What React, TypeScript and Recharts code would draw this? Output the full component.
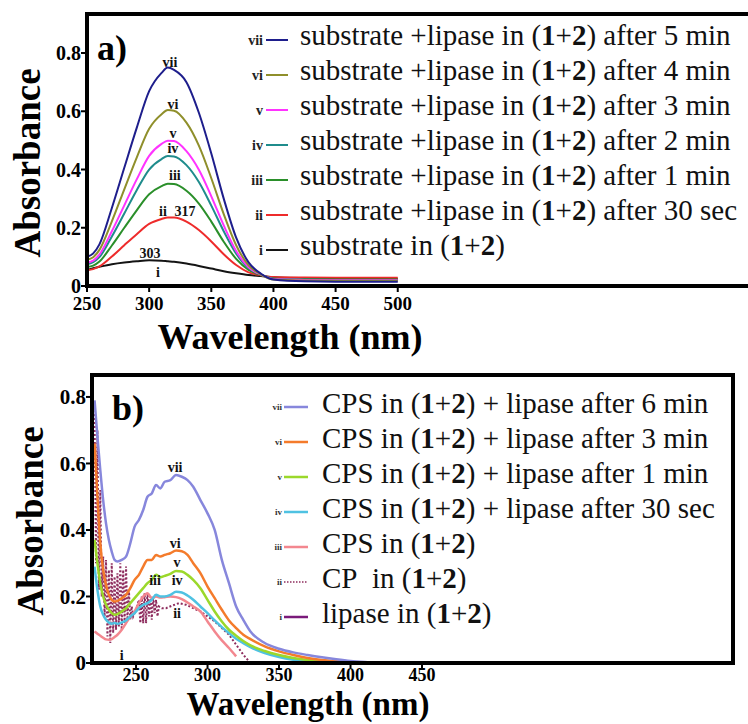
import React from "react";
import { LineChart, Line, XAxis, YAxis, ReferenceArea, ReferenceDot } from "recharts";

const SERIF = "Liberation Serif, DejaVu Serif, Noto Serif, serif";

// ---- (a) substrate + lipase, spectra recorded over time ----
const waveA = [250, 255, 260, 270, 280, 290, 300, 310, 315, 320, 330, 340, 350, 360, 370, 380, 390, 400, 425, 450, 475, 500];
const subVii = [0.1, 0.112, 0.143, 0.268, 0.406, 0.543, 0.669, 0.732, 0.75, 0.742, 0.7, 0.595, 0.455, 0.3, 0.166, 0.081, 0.042, 0.022, 0.016, 0.015, 0.015, 0.015];
const subVi = [0.09, 0.099, 0.124, 0.222, 0.332, 0.441, 0.54, 0.59, 0.604, 0.602, 0.561, 0.482, 0.37, 0.247, 0.14, 0.071, 0.04, 0.022, 0.019, 0.018, 0.018, 0.018];
const subV = [0.08, 0.087, 0.108, 0.188, 0.277, 0.366, 0.447, 0.488, 0.499, 0.498, 0.463, 0.399, 0.308, 0.208, 0.12, 0.064, 0.039, 0.024, 0.021, 0.02, 0.02, 0.02];
const subIv = [0.075, 0.082, 0.099, 0.17, 0.249, 0.329, 0.4, 0.436, 0.446, 0.445, 0.415, 0.357, 0.276, 0.188, 0.111, 0.061, 0.039, 0.025, 0.022, 0.021, 0.021, 0.021];
const subIii = [0.065, 0.07, 0.084, 0.139, 0.2, 0.26, 0.315, 0.343, 0.351, 0.35, 0.327, 0.283, 0.221, 0.152, 0.093, 0.055, 0.038, 0.026, 0.023, 0.022, 0.022, 0.022];
const subIi = [0.055, 0.058, 0.067, 0.101, 0.14, 0.178, 0.213, 0.23, 0.235, 0.235, 0.221, 0.192, 0.153, 0.109, 0.072, 0.047, 0.037, 0.031, 0.029, 0.028, 0.028, 0.028];
const subI = [0.055, 0.061, 0.066, 0.075, 0.081, 0.085, 0.088, 0.087, 0.085, 0.083, 0.077, 0.069, 0.06, 0.051, 0.044, 0.038, 0.034, 0.03, 0.027, 0.026, 0.025, 0.025];

const romanA = ["vii", "vi", "v", "iv", "iii", "ii", "i"];
const valuesA = [subVii, subVi, subV, subIv, subIii, subIi, subI];
const colorsA = ["#1e1e8c", "#8f8f2b", "#ff33ff", "#1f8c8c", "#2a8f2a", "#ee2b2b", "#141414"];
const legendA = [
  "substrate +lipase in (1+2) after 5 min",
  "substrate +lipase in (1+2) after 4 min",
  "substrate +lipase in (1+2) after 3 min",
  "substrate +lipase in (1+2) after 2 min",
  "substrate +lipase in (1+2) after 1 min",
  "substrate +lipase in (1+2) after 30 sec",
  "substrate in (1+2)",
];
const notesA: [string, number, number][] = [
  ["vii", 316.7, 0.769],
  ["vi", 319.1, 0.625],
  ["v", 319.1, 0.525],
  ["iv", 319.1, 0.474],
  ["iii", 320.7, 0.381],
  ["ii", 311.1, 0.258],
  ["317", 328.8, 0.258],
  ["303", 300.6, 0.113],
  ["i", 307, 0.048],
];
const ticksXA = [250, 300, 350, 400, 450, 500];

// ---- (b) CPS / CP with lipase ----
const waveB = [221, 223, 225, 227, 229, 231, 233, 235, 237, 240, 243, 246, 249, 252, 255, 258, 261, 264, 267, 270, 274, 278, 282, 286, 290, 295, 300, 305, 310, 315, 320, 325, 330, 340, 350, 360, 370, 380, 390, 400, 410, 420];
const cpsVii = [0.79, 0.68, 0.58, 0.49, 0.42, 0.37, 0.335, 0.31, 0.305, 0.31, 0.32, 0.36, 0.41, 0.43, 0.46, 0.5, 0.51, 0.535, 0.525, 0.545, 0.55, 0.565, 0.56, 0.55, 0.53, 0.49, 0.45, 0.4, 0.31, 0.24, 0.17, 0.13, 0.095, 0.06, 0.043, 0.032, 0.024, 0.017, 0.011, 0.006, 0.003, 0.001];
const cpsVi = [0.66, 0.5, 0.36, 0.28, 0.235, 0.205, 0.19, 0.185, 0.187, 0.195, 0.205, 0.225, 0.25, 0.265, 0.29, 0.31, 0.31, 0.325, 0.32, 0.325, 0.33, 0.338, 0.336, 0.325, 0.3, 0.27, 0.23, 0.195, 0.16, 0.128, 0.105, 0.085, 0.072, 0.05, 0.035, 0.024, 0.015, 0.009, 0.005, 0.002, 0.001, 0];
const cpsV = [0.37, 0.3, 0.24, 0.2, 0.175, 0.16, 0.15, 0.145, 0.147, 0.155, 0.165, 0.18, 0.195, 0.21, 0.225, 0.24, 0.25, 0.265, 0.258, 0.262, 0.268, 0.277, 0.275, 0.265, 0.25, 0.225, 0.19, 0.155, 0.125, 0.1, 0.082, 0.066, 0.053, 0.036, 0.024, 0.015, 0.009, 0.005, 0.002, 0.001, 0, 0];
const cpsIv = [0.29, 0.22, 0.17, 0.145, 0.13, 0.122, 0.118, 0.12, 0.118, 0.122, 0.128, 0.14, 0.15, 0.165, 0.175, 0.18, 0.19, 0.205, 0.2, 0.2, 0.205, 0.214, 0.212, 0.203, 0.19, 0.17, 0.15, 0.128, 0.108, 0.09, 0.073, 0.06, 0.048, 0.03, 0.018, 0.01, 0.005, 0.002, 0.001, 0, 0, 0];
const cpsIii = [0.095, 0.088, 0.082, 0.076, 0.071, 0.07, 0.072, 0.078, 0.085, 0.1, 0.12, 0.14, 0.155, 0.18, 0.2, 0.21, 0.195, 0.2, 0.197, 0.198, 0.2, 0.198, 0.192, 0.182, 0.17, 0.155, 0.125, 0.095, 0.068, 0.045, 0.02, null, null, null, null, null, null, null, null, null, null, null];
const lipaseI = [0.002, 0.002, 0.001, 0.001, 0.001, 0.001, 0.001, 0.001, 0.001, 0.001, 0.001, 0.001, 0.001, 0.001, 0.001, 0.001, 0.001, 0.001, 0.001, 0.001, 0.001, 0.001, 0.001, 0.001, 0.001, 0, 0, 0, 0, 0, 0, null, null, null, null, null, null, null, null, null, null, null];

// CP alone is noisy below 268 nm, so it gets a finer grid
const waveCP = [220, 221, 222, 223, 224, 225, 226, 227, 228, 229, 230, 231, 232, 233, 234, 235, 236, 237, 238, 239, 240, 241, 242, 243, 244, 245, 246, 247, 248, 250, 252, 253, 254, 255, 256, 257, 258, 259, 260, 261, 262, 263, 264, 265, 266, 268, 271, 275, 280, 285, 290, 295, 300, 305, 310, 315, 320, 325, 329];
const cpIi = [0.76, 0.74, 0.3, 0.7, 0.22, 0.52, 0.2, 0.32, 0.14, 0.31, 0.08, 0.28, 0.06, 0.3, 0.09, 0.26, 0.1, 0.27, 0.11, 0.3, 0.1, 0.28, 0.12, 0.29, 0.13, 0.22, 0.13, 0.17, 0.14, 0.16, 0.19, 0.12, 0.2, 0.12, 0.21, 0.12, 0.21, 0.14, 0.2, 0.13, 0.2, 0.15, 0.19, 0.14, 0.17, 0.165, 0.165, 0.172, 0.18, 0.175, 0.165, 0.155, 0.14, 0.125, 0.105, 0.085, 0.055, 0.025, 0.005];

const romanB = ["vii", "vi", "v", "iv", "iii", "ii", "i"];
const colorsB = ["#8787dc", "#f47b2b", "#9bd82b", "#4fc2e2", "#f3878f", "#8e2d5e", "#7a1a7a"];
const legendB = [
  "CPS in (1+2) + lipase after 6 min",
  "CPS in (1+2) + lipase after 3 min",
  "CPS in (1+2) + lipase after 1 min",
  "CPS in (1+2) + lipase after 30 sec",
  "CPS in (1+2)",
  "CP\u00a0 in (1+2)",
  "lipase in (1+2)",
];
const notesB: [string, number, number][] = [
  ["vii", 277.3, 0.589],
  ["vi", 277.3, 0.361],
  ["v", 278.7, 0.304],
  ["iii", 263.3, 0.25],
  ["iv", 278.7, 0.25],
  ["ii", 278.7, 0.15],
  ["i", 240, 0.024],
];
const ticksXB = [250, 300, 350, 400, 450];
const ticksY = [0, 0.2, 0.4, 0.6, 0.8];

const toPoints = (xs: number[], ys: (number | null)[]) => xs.map((x, i) => ({ x, y: ys[i] }));

const tickFont = { fontFamily: SERIF, fontWeight: "bold", fill: "#000" };
const fmtY = (v: number) => (v === 0 ? "0" : v.toFixed(1));

function note(prefix: string, [text, x, y]: [string, number, number]) {
  return (
    <ReferenceDot
      key={prefix + text}
      x={x}
      y={y}
      r={0}
      fill="none"
      stroke="none"
      label={{ value: text, position: "center", fontSize: 14, fontWeight: "bold", fill: "#111", fontFamily: SERIF }}
    />
  );
}

function PanelA() {
  const xDom: [number, number] = [250, 785];
  const yDom: [number, number] = [0, 0.934];
  return (
    <LineChart width={760} height={358} margin={{ top: 14, right: 8, bottom: 42, left: 0 }}>
      <XAxis
        type="number"
        dataKey="x"
        domain={xDom}
        ticks={ticksXA}
        interval={0}
        allowDataOverflow
        height={30}
        axisLine={false}
        tickSize={6}
        tickMargin={5}
        tickLine={{ stroke: "#000", strokeWidth: 2 }}
        tick={{ ...tickFont, fontSize: 19 }}
      />
      <YAxis
        type="number"
        domain={yDom}
        ticks={ticksY}
        allowDataOverflow
        width={87}
        axisLine={false}
        tickSize={6}
        tickMargin={0}
        tickLine={{ stroke: "#000", strokeWidth: 2 }}
        tick={{ ...tickFont, fontSize: 20 }}
        tickFormatter={fmtY}
      />
      {valuesA
        .map((vals, i) => (
          <Line
            key={romanA[i]}
            data={toPoints(waveA, vals)}
            dataKey="y"
            type="monotone"
            stroke={colorsA[i]}
            strokeWidth={2}
            dot={false}
            isAnimationActive={false}
          />
        ))
        .reverse()}
      <ReferenceArea x1={xDom[0]} x2={xDom[1]} y1={yDom[0]} y2={yDom[1]} fill="none" stroke="#000" strokeWidth={4} ifOverflow="visible" zIndex={1000} />
      {notesA.map((n) => note("a", n))}
    </LineChart>
  );
}

function PanelB() {
  const xDom: [number, number] = [219.2, 667.5];
  const yDom: [number, number] = [0, 0.866];
  const solid = [cpsVii, cpsVi, cpsV, cpsIv, cpsIii];
  return (
    <LineChart width={748} height={364} margin={{ top: 15, right: 15, bottom: 31, left: 0 }}>
      <XAxis
        type="number"
        dataKey="x"
        domain={xDom}
        ticks={ticksXB}
        interval={0}
        allowDataOverflow
        height={30}
        axisLine={false}
        tickSize={5}
        tickMargin={0}
        tickLine={{ stroke: "#000", strokeWidth: 2 }}
        tick={{ ...tickFont, fontSize: 18 }}
      />
      <YAxis
        type="number"
        domain={yDom}
        ticks={ticksY}
        allowDataOverflow
        width={92}
        axisLine={false}
        tickSize={6}
        tickMargin={0}
        tickLine={{ stroke: "#000", strokeWidth: 2 }}
        tick={{ ...tickFont, fontSize: 21 }}
        tickFormatter={fmtY}
      />
      <Line data={toPoints(waveB, lipaseI)} dataKey="y" type="monotone" stroke={colorsB[6]} strokeWidth={1.5} dot={false} isAnimationActive={false} />
      <Line
        data={toPoints(waveCP, cpIi)}
        dataKey="y"
        type="linear"
        stroke={colorsB[5]}
        strokeWidth={2}
        strokeDasharray="2 2"
        dot={false}
        isAnimationActive={false}
      />
      {solid
        .map((vals, i) => (
          <Line
            key={romanB[i]}
            data={toPoints(waveB, vals)}
            dataKey="y"
            type="monotone"
            stroke={colorsB[i]}
            strokeWidth={2.5}
            dot={false}
            isAnimationActive={false}
          />
        ))
        .reverse()}
      <ReferenceArea x1={xDom[0]} x2={xDom[1]} y1={yDom[0]} y2={yDom[1]} fill="none" stroke="#000" strokeWidth={4} ifOverflow="visible" zIndex={1000} />
      {notesB.map((n) => note("b", n))}
    </LineChart>
  );
}

// "(1+2)" is typeset with bold numerals
function LegendText({ x, y, size, text }: { x: number; y: number; size: number; text: string }) {
  const [before, after] = text.split("(1+2)");
  return (
    <text x={x} y={y} fontSize={size} style={{ fontFamily: SERIF }} fill="#111">
      {before}(<tspan fontWeight="bold">1</tspan>+<tspan fontWeight="bold">2</tspan>){after}
    </text>
  );
}

function Overlay() {
  const title = { fontWeight: "bold", fill: "#000", style: { fontFamily: SERIF } } as const;
  return (
    <svg width={748} height={724} style={{ position: "absolute", left: 0, top: 0, pointerEvents: "none" }}>
      {/* panel letters */}
      <text x={97} y={60} fontSize={36} {...title}>a)</text>
      <text x={112} y={420} fontSize={36} {...title}>b)</text>

      {/* axis titles */}
      <text x={27} y={163} fontSize={37} textAnchor="middle" dominantBaseline="central" transform="rotate(-90 27 163)" {...title}>
        Absorbance
      </text>
      <text x={290} y={349} fontSize={36} textAnchor="middle" {...title}>
        Wavelength (nm)
      </text>
      <text x={30} y={521} fontSize={37} textAnchor="middle" dominantBaseline="central" transform="rotate(-90 30 521)" {...title}>
        Absorbance
      </text>
      <text x={308} y={715} fontSize={33} textAnchor="middle" {...title}>
        Wavelength (nm)
      </text>

      {/* legend (a) */}
      {legendA.map((t, i) => {
        const base = 45 + 35 * i;
        return (
          <g key={"la" + i}>
            <text x={263} y={base} fontSize={14} textAnchor="end" {...title} fill="#222">
              {romanA[i]}
            </text>
            <line x1={266} x2={288} y1={base - 5} y2={base - 5} stroke={colorsA[i]} strokeWidth={2} />
            <LegendText x={300} y={base} size={29} text={t} />
          </g>
        );
      })}

      {/* legend (b) */}
      {legendB.map((t, i) => {
        const base = 413 + 35 * i;
        return (
          <g key={"lb" + i}>
            <text x={282} y={base - 3} fontSize={9} textAnchor="end" {...title} fill="#333">
              {romanB[i]}
            </text>
            <line
              x1={284}
              x2={308}
              y1={base - 6}
              y2={base - 6}
              stroke={colorsB[i]}
              strokeWidth={i === 5 ? 1.5 : 2.5}
              strokeDasharray={i === 5 ? "1.5 1.5" : undefined}
            />
            <LegendText x={322} y={base} size={29} text={t} />
          </g>
        );
      })}
    </svg>
  );
}

export default function App() {
  return (
    <div style={{ position: "absolute", left: 0, top: 0, width: 748, height: 724, overflow: "hidden", background: "#fff" }}>
      <div style={{ position: "absolute", left: 0, top: 0 }}>
        <PanelA />
      </div>
      <div style={{ position: "absolute", left: 0, top: 360 }}>
        <PanelB />
      </div>
      <Overlay />
    </div>
  );
}
